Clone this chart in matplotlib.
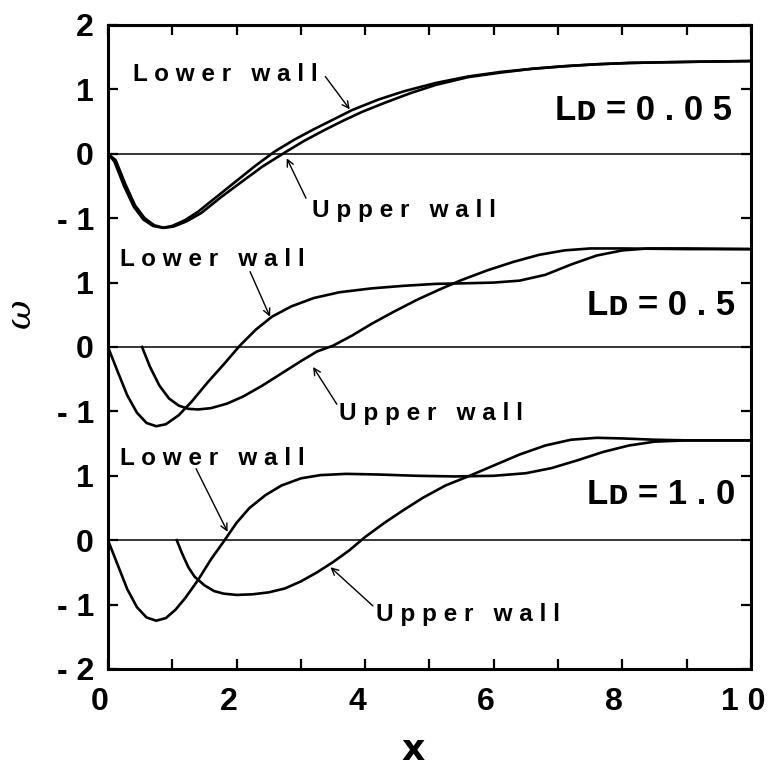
import matplotlib
matplotlib.use("Agg")
import matplotlib.pyplot as plt
import matplotlib.transforms as mtransforms
from matplotlib.ticker import MultipleLocator

plt.rcParams['font.family'] = ['Liberation Sans', 'DejaVu Sans']
plt.rcParams['font.weight'] = 'bold'

# vertical offset of each case's zero line on the shared axis
OFFSETS = {'0.05': 8, '0.5': 5, '1.0': 2}

# L_D = 0.05
x_low_005 = [0, 0.1, 0.25, 0.4, 0.55, 0.7, 0.85, 1.0, 1.2, 1.4, 1.7, 2.0, 2.3, 2.6, 2.9,
             3.2, 3.5, 3.8, 4.2, 4.6, 5.1, 5.6, 6.1, 6.6, 7.1, 7.6, 8.1, 8.6, 9.2, 10]
w_low_005 = [0, -0.12, -0.5, -0.82, -1.02, -1.12, -1.15, -1.12, -1.03, -0.9, -0.66, -0.42,
             -0.18, 0.04, 0.22, 0.38, 0.53, 0.68, 0.84, 0.97, 1.10, 1.20, 1.27, 1.32, 1.36,
             1.39, 1.41, 1.42, 1.43, 1.44]
x_up_005 = [0, 0.12, 0.27, 0.42, 0.57, 0.72, 0.87, 1.02, 1.22, 1.45, 1.75, 2.1, 2.4, 2.75,
            3.05, 3.35, 3.65, 3.95, 4.3, 4.7, 5.1, 5.6, 6.1, 6.6, 7.1, 7.6, 8.1, 8.6, 9.2, 10]
w_up_005 = [0, -0.1, -0.47, -0.8, -1.0, -1.11, -1.15, -1.13, -1.05, -0.92, -0.68, -0.42,
            -0.2, 0.02, 0.2, 0.36, 0.51, 0.65, 0.79, 0.94, 1.07, 1.19, 1.26, 1.32, 1.36,
            1.39, 1.41, 1.42, 1.43, 1.44]

# L_D = 0.5
x_low_05 = [0, 0.15, 0.3, 0.45, 0.6, 0.75, 0.9, 1.1, 1.3, 1.55, 1.8, 2.05, 2.3, 2.55, 2.85,
            3.2, 3.6, 4.1, 4.6, 5.1, 5.6, 6.0, 6.4, 6.8, 7.2, 7.6, 8.0, 8.4, 9.0, 10]
w_low_05 = [0, -0.38, -0.75, -1.02, -1.18, -1.23, -1.2, -1.06, -0.85, -0.55, -0.27, 0.02,
            0.27, 0.47, 0.63, 0.76, 0.85, 0.91, 0.95, 0.98, 0.99, 1.0, 1.03, 1.12, 1.28,
            1.42, 1.5, 1.53, 1.53, 1.52]
x_up_05 = [0.53, 0.65, 0.8, 0.95, 1.1, 1.25, 1.4, 1.6, 1.85, 2.1, 2.4, 2.7, 3.0, 3.25, 3.5,
           3.8, 4.1, 4.45, 4.8, 5.15, 5.5, 5.9, 6.3, 6.7, 7.1, 7.5, 8.0, 9.0, 10]
w_up_05 = [0, -0.3, -0.6, -0.8, -0.91, -0.96, -0.97, -0.95, -0.88, -0.77, -0.6, -0.41,
           -0.22, -0.07, 0.02, 0.18, 0.36, 0.55, 0.73, 0.89, 1.04, 1.19, 1.32, 1.43, 1.5,
           1.53, 1.53, 1.52, 1.52]

# L_D = 1.0
x_low_10 = [0, 0.15, 0.3, 0.45, 0.6, 0.75, 0.9, 1.05, 1.2, 1.4, 1.6, 1.8, 2.0, 2.2, 2.45,
            2.7, 3.0, 3.3, 3.7, 4.2, 4.8, 5.4, 6.0, 6.5, 6.9, 7.3, 7.7, 8.1, 8.5, 9.0, 10]
w_low_10 = [0, -0.38, -0.76, -1.04, -1.2, -1.25, -1.21, -1.08, -0.9, -0.62, -0.3, -0.02,
            0.27, 0.5, 0.7, 0.85, 0.96, 1.01, 1.03, 1.02, 1.0, 0.99, 1.0, 1.04, 1.12, 1.24,
            1.37, 1.47, 1.53, 1.55, 1.55]
x_up_10 = [1.07, 1.15, 1.25, 1.35, 1.5, 1.65, 1.8, 2.0, 2.25, 2.5, 2.75, 3.0, 3.25, 3.5,
           3.75, 4.0, 4.3, 4.6, 4.9, 5.25, 5.6, 6.0, 6.4, 6.8, 7.2, 7.6, 8.0, 8.5, 9.0, 10]
w_up_10 = [0, -0.2, -0.42, -0.57, -0.7, -0.79, -0.83, -0.85, -0.84, -0.81, -0.75, -0.64,
           -0.5, -0.34, -0.16, 0.05, 0.27, 0.47, 0.66, 0.85, 0.99, 1.16, 1.33, 1.47, 1.56,
           1.59, 1.58, 1.56, 1.55, 1.55]

y_tick_pos = list(range(11))
y_tick_labels = ['- 2', '- 1', '0', '1', '- 1', '0', '1', '- 1', '0', '1', '2']
x_tick_pos = [0, 2, 4, 6, 8, 10]
x_tick_labels = ['0', '2', '4', '6', '8', '1 0']

cases = [
    ('0.05', x_low_005, w_low_005, x_up_005, w_up_005),
    ('0.5', x_low_05, w_low_05, x_up_05, w_up_05),
    ('1.0', x_low_10, w_low_10, x_up_10, w_up_10),
]

# label placement per case: (lower text, lower arrow tail, lower arrow tip,
#                            upper text, upper arrow tail, upper arrow tip, L_D text)
notes = {
    '0.05': ((0.39, 1.23), (3.38, 1.20), (3.76, 0.69),
             (3.18, -0.88), (3.08, -0.69), (2.78, -0.07), (6.95, 0.67), '0 . 0 5'),
    '0.5': ((0.19, 1.36), (2.21, 1.17), (2.52, 0.47),
            (3.60, -1.04), (3.56, -0.89), (3.19, -0.31), (7.45, 0.65), '0 . 5'),
    '1.0': ((0.19, 1.27), (1.37, 1.11), (1.86, 0.13),
            (4.17, -1.16), (4.12, -1.02), (3.46, -0.42), (7.45, 0.71), '1 . 0'),
}

fig = plt.figure(figsize=(7.69, 7.71), dpi=100)
ax = fig.add_axes([0.1404, 0.1323, 0.8362, 0.8353])

arrow = dict(arrowstyle='->', lw=1.0, color='black', shrinkA=0, shrinkB=0,
             mutation_scale=12)
txt = dict(fontsize=17.5, fontweight='bold', va='center', ha='left')

for ld, xl, wl, xu, wu in cases:
    off = OFFSETS[ld]
    ax.axhline(off, color='black', lw=1.1, zorder=1)
    ax.plot(xl, [w + off for w in wl], color='black', lw=1.9, zorder=2)
    ax.plot(xu, [w + off for w in wu], color='black', lw=1.9, zorder=2)

    lt, la, lb, ut, ua, ub, ldpos, ldtxt = notes[ld]
    ax.text(lt[0], lt[1] + off, 'L o w e r   w a l l', **txt)
    ax.annotate('', xy=(lb[0], lb[1] + off), xytext=(la[0], la[1] + off), arrowprops=arrow)
    ax.text(ut[0], ut[1] + off, 'U p p e r   w a l l', **txt)
    ax.annotate('', xy=(ub[0], ub[1] + off), xytext=(ua[0], ua[1] + off), arrowprops=arrow)

    # small-capital D after the L
    ax.text(ldpos[0], ldpos[1] + off, 'Lᴅ = ' + ldtxt, fontsize=25,
            fontweight='bold', va='center', ha='left')

ax.set_xlim(0, 10)
ax.set_ylim(0, 10)

ax.set_xticks(x_tick_pos)
ax.set_xticklabels(x_tick_labels)
ax.xaxis.set_minor_locator(MultipleLocator(1))
ax.set_yticks(y_tick_pos)
ax.set_yticklabels(y_tick_labels)

ax.tick_params(which='both', direction='in', top=True, right=True,
               length=7, width=1.6, labelsize=23)
ax.tick_params(axis='x', which='major', pad=13)
ax.tick_params(axis='y', which='major', pad=10)

# nudge the x tick labels slightly to the left
shift = mtransforms.ScaledTranslation(-8 / 100, 0, fig.dpi_scale_trans)
for lab in ax.get_xticklabels():
    lab.set_transform(lab.get_transform() + shift)

for sp in ax.spines.values():
    sp.set_linewidth(2.2)

ax.set_ylabel('ω', fontsize=26, fontstyle='italic', fontweight='normal',
              family=['DejaVu Serif'])
ax.yaxis.set_label_coords(-0.110, 0.553)
ax.set_xlabel('x', fontsize=26, fontweight='bold', family=['DejaVu Sans'])
ax.xaxis.label.set_va('baseline')
ax.xaxis.set_label_coords(0.474, -0.142)

fig.savefig('out.png', dpi=100)
